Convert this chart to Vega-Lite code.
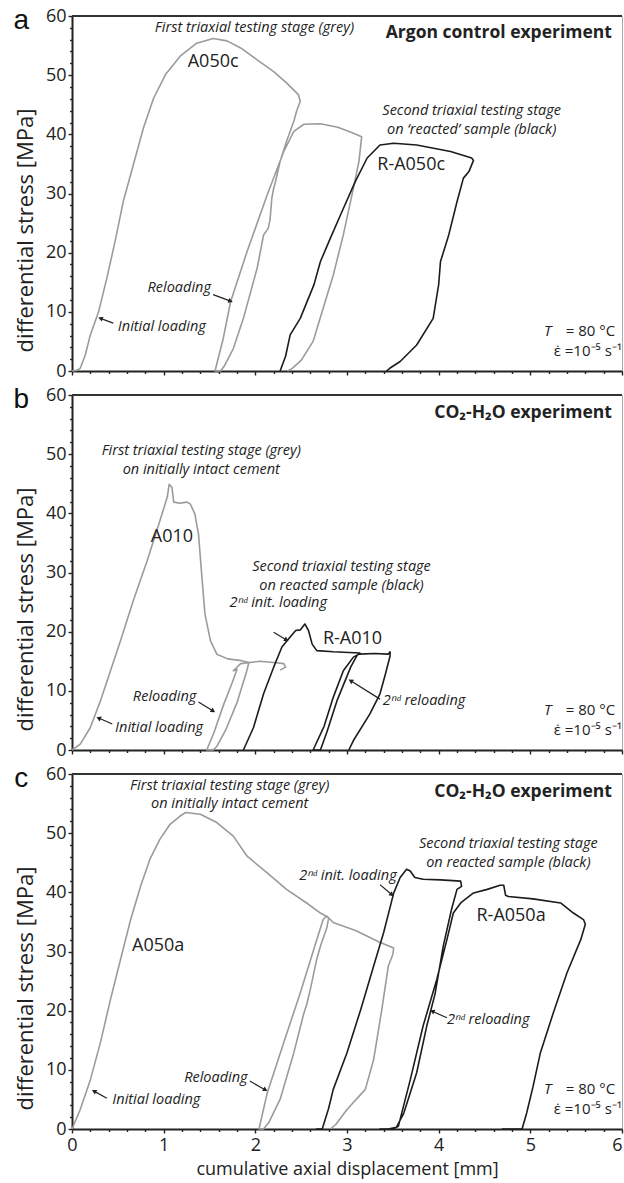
{
"$schema": "https://vega.github.io/schema/vega-lite/v6.json",
"padding": {"left": 13, "top": 6, "right": 2, "bottom": 2},
"spacing": 4,
"config": {
  "font": "Open Sans",
  "view": {"stroke": "#aaaaaa", "strokeWidth": 1},
  "axis": {"domainColor": "#222222", "domainWidth": 2, "tickColor": "#222222", "tickWidth": 1.4, "labelFont": "Open Sans", "labelFontSize": 18, "labelColor": "#222222", "titleFont": "Open Sans", "titleFontSize": 22, "titleColor": "#222222", "titleFontWeight": "normal", "grid": false, "labelOverlap": false, "tickCount": 40}
},
"datasets": {
"curves": [
{"panel":"a","stage":"first","i":0,"x":0,"y":0},{"panel":"a","stage":"first","i":1,"x":0.05,"y":0.1},{"panel":"a","stage":"first","i":2,"x":0.09,"y":0.45},{"panel":"a","stage":"first","i":3,"x":0.145,"y":2.7},{"panel":"a","stage":"first","i":4,"x":0.2,"y":6.1},{"panel":"a","stage":"first","i":5,"x":0.29,"y":10},{"panel":"a","stage":"first","i":6,"x":0.38,"y":15.7},{"panel":"a","stage":"first","i":7,"x":0.47,"y":21.9},{"panel":"a","stage":"first","i":8,"x":0.56,"y":28.7},{"panel":"a","stage":"first","i":9,"x":0.67,"y":34.9},{"panel":"a","stage":"first","i":10,"x":0.78,"y":41.1},{"panel":"a","stage":"first","i":11,"x":0.89,"y":46.1},{"panel":"a","stage":"first","i":12,"x":1.02,"y":50.1},{"panel":"a","stage":"first","i":13,"x":1.18,"y":53.2},{"panel":"a","stage":"first","i":14,"x":1.36,"y":55.4},{"panel":"a","stage":"first","i":15,"x":1.54,"y":56.2},{"panel":"a","stage":"first","i":16,"x":1.69,"y":55.8},{"panel":"a","stage":"first","i":17,"x":1.84,"y":54.6},{"panel":"a","stage":"first","i":18,"x":2.02,"y":52.6},{"panel":"a","stage":"first","i":19,"x":2.2,"y":50.6},{"panel":"a","stage":"first","i":20,"x":2.34,"y":48.7},{"panel":"a","stage":"first","i":21,"x":2.47,"y":46.7},{"panel":"a","stage":"first","i":22,"x":2.49,"y":45.6},{"panel":"a","stage":"first","i":23,"x":2.45,"y":43.9},{"panel":"a","stage":"first","i":24,"x":2.42,"y":42.2},{"panel":"a","stage":"first","i":25,"x":2.34,"y":38.8},{"panel":"a","stage":"first","i":26,"x":2.27,"y":35.4},{"panel":"a","stage":"first","i":27,"x":2.22,"y":32},{"panel":"a","stage":"first","i":28,"x":2.2,"y":30.9},{"panel":"a","stage":"first","i":29,"x":2.18,"y":29.2},{"panel":"a","stage":"first","i":30,"x":2.16,"y":25.5},{"panel":"a","stage":"first","i":31,"x":2.14,"y":24.1},{"panel":"a","stage":"first","i":32,"x":2.09,"y":23},{"panel":"a","stage":"first","i":33,"x":2.02,"y":17.4},{"panel":"a","stage":"first","i":34,"x":1.87,"y":8.9},{"panel":"a","stage":"first","i":35,"x":1.76,"y":3.8},{"panel":"a","stage":"first","i":36,"x":1.66,"y":0.8},{"panel":"a","stage":"first","i":37,"x":1.62,"y":0},{"panel":"a","stage":"first","i":38,"x":1.56,"y":0},{"panel":"a","stage":"first","i":39,"x":1.65,"y":5.5},{"panel":"a","stage":"first","i":40,"x":1.73,"y":11.7},{"panel":"a","stage":"first","i":41,"x":1.91,"y":20.2},{"panel":"a","stage":"first","i":42,"x":2.13,"y":29.8},{"panel":"a","stage":"first","i":43,"x":2.31,"y":37.1},{"panel":"a","stage":"first","i":44,"x":2.42,"y":40.5},{"panel":"a","stage":"first","i":45,"x":2.53,"y":41.7},{"panel":"a","stage":"first","i":46,"x":2.71,"y":41.8},{"panel":"a","stage":"first","i":47,"x":2.9,"y":41.2},{"panel":"a","stage":"first","i":48,"x":3.05,"y":40.3},{"panel":"a","stage":"first","i":49,"x":3.16,"y":39.6},{"panel":"a","stage":"first","i":50,"x":3.13,"y":35.4},{"panel":"a","stage":"first","i":51,"x":3.07,"y":30.9},{"panel":"a","stage":"first","i":52,"x":2.96,"y":23},{"panel":"a","stage":"first","i":53,"x":2.85,"y":16.2},{"panel":"a","stage":"first","i":54,"x":2.74,"y":10.6},{"panel":"a","stage":"first","i":55,"x":2.63,"y":5},{"panel":"a","stage":"first","i":56,"x":2.5,"y":1.8},{"panel":"a","stage":"first","i":57,"x":2.4,"y":0.4},{"panel":"a","stage":"first","i":58,"x":2.35,"y":0},
{"panel":"a","stage":"second","i":0,"x":2.27,"y":0},{"panel":"a","stage":"second","i":1,"x":2.33,"y":2.5},{"panel":"a","stage":"second","i":2,"x":2.38,"y":6.1},{"panel":"a","stage":"second","i":3,"x":2.49,"y":8.9},{"panel":"a","stage":"second","i":4,"x":2.64,"y":14.6},{"panel":"a","stage":"second","i":5,"x":2.71,"y":18.5},{"panel":"a","stage":"second","i":6,"x":2.82,"y":22.5},{"panel":"a","stage":"second","i":7,"x":2.93,"y":26.4},{"panel":"a","stage":"second","i":8,"x":3.09,"y":32},{"panel":"a","stage":"second","i":9,"x":3.22,"y":36},{"panel":"a","stage":"second","i":10,"x":3.36,"y":38.2},{"panel":"a","stage":"second","i":11,"x":3.51,"y":38.5},{"panel":"a","stage":"second","i":12,"x":3.76,"y":38.2},{"panel":"a","stage":"second","i":13,"x":4.13,"y":37.1},{"panel":"a","stage":"second","i":14,"x":4.36,"y":36},{"panel":"a","stage":"second","i":15,"x":4.38,"y":35.6},{"panel":"a","stage":"second","i":16,"x":4.33,"y":33.7},{"panel":"a","stage":"second","i":17,"x":4.27,"y":32.6},{"panel":"a","stage":"second","i":18,"x":4.2,"y":28.6},{"panel":"a","stage":"second","i":19,"x":4.11,"y":23},{"panel":"a","stage":"second","i":20,"x":4.02,"y":18.5},{"panel":"a","stage":"second","i":21,"x":4,"y":14.6},{"panel":"a","stage":"second","i":22,"x":3.94,"y":8.9},{"panel":"a","stage":"second","i":23,"x":3.76,"y":4.4},{"panel":"a","stage":"second","i":24,"x":3.58,"y":1.6},{"panel":"a","stage":"second","i":25,"x":3.47,"y":0.5},{"panel":"a","stage":"second","i":26,"x":3.43,"y":0},
{"panel":"b","stage":"first","i":0,"x":0,"y":0},{"panel":"b","stage":"first","i":1,"x":0.09,"y":1},{"panel":"b","stage":"first","i":2,"x":0.2,"y":3.8},{"panel":"b","stage":"first","i":3,"x":0.31,"y":8.3},{"panel":"b","stage":"first","i":4,"x":0.42,"y":13.4},{"panel":"b","stage":"first","i":5,"x":0.53,"y":18.5},{"panel":"b","stage":"first","i":6,"x":0.67,"y":25.3},{"panel":"b","stage":"first","i":7,"x":0.82,"y":32},{"panel":"b","stage":"first","i":8,"x":0.96,"y":38.8},{"panel":"b","stage":"first","i":9,"x":1.04,"y":42.8},{"panel":"b","stage":"first","i":10,"x":1.06,"y":44.9},{"panel":"b","stage":"first","i":11,"x":1.09,"y":44.4},{"panel":"b","stage":"first","i":12,"x":1.11,"y":41.9},{"panel":"b","stage":"first","i":13,"x":1.18,"y":41.7},{"panel":"b","stage":"first","i":14,"x":1.25,"y":41.9},{"panel":"b","stage":"first","i":15,"x":1.29,"y":41.6},{"panel":"b","stage":"first","i":16,"x":1.34,"y":39.9},{"panel":"b","stage":"first","i":17,"x":1.38,"y":36.5},{"panel":"b","stage":"first","i":18,"x":1.42,"y":28.7},{"panel":"b","stage":"first","i":19,"x":1.45,"y":23},{"panel":"b","stage":"first","i":20,"x":1.51,"y":18.5},{"panel":"b","stage":"first","i":21,"x":1.58,"y":16.2},{"panel":"b","stage":"first","i":22,"x":1.7,"y":15.4},{"panel":"b","stage":"first","i":23,"x":1.85,"y":15.1},{"panel":"b","stage":"first","i":24,"x":1.93,"y":14.8},{"panel":"b","stage":"first","i":25,"x":1.9,"y":13},{"panel":"b","stage":"first","i":26,"x":1.8,"y":8},{"panel":"b","stage":"first","i":27,"x":1.68,"y":3.5},{"panel":"b","stage":"first","i":28,"x":1.58,"y":0.6},{"panel":"b","stage":"first","i":29,"x":1.54,"y":0},{"panel":"b","stage":"first","i":30,"x":1.47,"y":0},{"panel":"b","stage":"first","i":31,"x":1.55,"y":3},{"panel":"b","stage":"first","i":32,"x":1.65,"y":7.5},{"panel":"b","stage":"first","i":33,"x":1.75,"y":11.5},{"panel":"b","stage":"first","i":34,"x":1.8,"y":13.6},{"panel":"b","stage":"first","i":35,"x":1.76,"y":13.4},{"panel":"b","stage":"first","i":36,"x":1.84,"y":14.6},{"panel":"b","stage":"first","i":37,"x":2.05,"y":15},{"panel":"b","stage":"first","i":38,"x":2.2,"y":14.8},{"panel":"b","stage":"first","i":39,"x":2.31,"y":14.6},{"panel":"b","stage":"first","i":40,"x":2.33,"y":14},{"panel":"b","stage":"first","i":41,"x":2.27,"y":13.5},
{"panel":"b","stage":"second","i":0,"x":1.87,"y":0},{"panel":"b","stage":"second","i":1,"x":1.98,"y":3.8},{"panel":"b","stage":"second","i":2,"x":2.09,"y":9.5},{"panel":"b","stage":"second","i":3,"x":2.2,"y":14},{"panel":"b","stage":"second","i":4,"x":2.29,"y":17.4},{"panel":"b","stage":"second","i":5,"x":2.38,"y":19.1},{"panel":"b","stage":"second","i":6,"x":2.44,"y":20.2},{"panel":"b","stage":"second","i":7,"x":2.49,"y":20.3},{"panel":"b","stage":"second","i":8,"x":2.54,"y":21.3},{"panel":"b","stage":"second","i":9,"x":2.58,"y":20.2},{"panel":"b","stage":"second","i":10,"x":2.62,"y":17.9},{"panel":"b","stage":"second","i":11,"x":2.67,"y":16.8},{"panel":"b","stage":"second","i":12,"x":2.85,"y":16.6},{"panel":"b","stage":"second","i":13,"x":3.14,"y":16.4},{"panel":"b","stage":"second","i":14,"x":3.11,"y":16},{"panel":"b","stage":"second","i":15,"x":3.04,"y":14},{"panel":"b","stage":"second","i":16,"x":2.89,"y":8.3},{"panel":"b","stage":"second","i":17,"x":2.78,"y":3},{"panel":"b","stage":"second","i":18,"x":2.71,"y":0},{"panel":"b","stage":"second","i":19,"x":2.63,"y":0},{"panel":"b","stage":"second","i":20,"x":2.75,"y":4},{"panel":"b","stage":"second","i":21,"x":2.85,"y":8.9},{"panel":"b","stage":"second","i":22,"x":2.96,"y":13.4},{"panel":"b","stage":"second","i":23,"x":3.07,"y":15.7},{"panel":"b","stage":"second","i":24,"x":3.13,"y":16.2},{"panel":"b","stage":"second","i":25,"x":3.3,"y":16.3},{"panel":"b","stage":"second","i":26,"x":3.45,"y":16.2},{"panel":"b","stage":"second","i":27,"x":3.47,"y":16.6},{"panel":"b","stage":"second","i":28,"x":3.47,"y":15.9},{"panel":"b","stage":"second","i":29,"x":3.42,"y":12.9},{"panel":"b","stage":"second","i":30,"x":3.36,"y":9.5},{"panel":"b","stage":"second","i":31,"x":3.25,"y":6.1},{"panel":"b","stage":"second","i":32,"x":3.07,"y":1.6},{"panel":"b","stage":"second","i":33,"x":3.02,"y":0},
{"panel":"c","stage":"first","i":0,"x":0,"y":0},{"panel":"c","stage":"first","i":1,"x":0.09,"y":3.3},{"panel":"c","stage":"first","i":2,"x":0.2,"y":8.3},{"panel":"c","stage":"first","i":3,"x":0.31,"y":14.6},{"panel":"c","stage":"first","i":4,"x":0.42,"y":21.9},{"panel":"c","stage":"first","i":5,"x":0.53,"y":28.7},{"panel":"c","stage":"first","i":6,"x":0.64,"y":35.4},{"panel":"c","stage":"first","i":7,"x":0.75,"y":41.1},{"panel":"c","stage":"first","i":8,"x":0.85,"y":45.6},{"panel":"c","stage":"first","i":9,"x":0.96,"y":49},{"panel":"c","stage":"first","i":10,"x":1.07,"y":51.5},{"panel":"c","stage":"first","i":11,"x":1.18,"y":52.9},{"panel":"c","stage":"first","i":12,"x":1.24,"y":53.5},{"panel":"c","stage":"first","i":13,"x":1.4,"y":53.2},{"panel":"c","stage":"first","i":14,"x":1.58,"y":51.8},{"panel":"c","stage":"first","i":15,"x":1.76,"y":49.5},{"panel":"c","stage":"first","i":16,"x":1.91,"y":46.1},{"panel":"c","stage":"first","i":17,"x":2.13,"y":43.3},{"panel":"c","stage":"first","i":18,"x":2.34,"y":40.5},{"panel":"c","stage":"first","i":19,"x":2.56,"y":38.2},{"panel":"c","stage":"first","i":20,"x":2.71,"y":36.5},{"panel":"c","stage":"first","i":21,"x":2.8,"y":35.7},{"panel":"c","stage":"first","i":22,"x":2.78,"y":34},{"panel":"c","stage":"first","i":23,"x":2.71,"y":30.9},{"panel":"c","stage":"first","i":24,"x":2.67,"y":28.7},{"panel":"c","stage":"first","i":25,"x":2.6,"y":23.6},{"panel":"c","stage":"first","i":26,"x":2.56,"y":21},{"panel":"c","stage":"first","i":27,"x":2.53,"y":19.6},{"panel":"c","stage":"first","i":28,"x":2.42,"y":12.9},{"panel":"c","stage":"first","i":29,"x":2.27,"y":5},{"panel":"c","stage":"first","i":30,"x":2.15,"y":1.2},{"panel":"c","stage":"first","i":31,"x":2.09,"y":0},{"panel":"c","stage":"first","i":32,"x":2.04,"y":0},{"panel":"c","stage":"first","i":33,"x":2.13,"y":6.1},{"panel":"c","stage":"first","i":34,"x":2.31,"y":14.6},{"panel":"c","stage":"first","i":35,"x":2.49,"y":23},{"panel":"c","stage":"first","i":36,"x":2.67,"y":32},{"panel":"c","stage":"first","i":37,"x":2.74,"y":35.4},{"panel":"c","stage":"first","i":38,"x":2.78,"y":36},{"panel":"c","stage":"first","i":39,"x":2.85,"y":34.9},{"panel":"c","stage":"first","i":40,"x":3.1,"y":33.5},{"panel":"c","stage":"first","i":41,"x":3.35,"y":31.6},{"panel":"c","stage":"first","i":42,"x":3.51,"y":30.6},{"panel":"c","stage":"first","i":43,"x":3.5,"y":29.5},{"panel":"c","stage":"first","i":44,"x":3.45,"y":27.5},{"panel":"c","stage":"first","i":45,"x":3.38,"y":20.2},{"panel":"c","stage":"first","i":46,"x":3.29,"y":11.7},{"panel":"c","stage":"first","i":47,"x":3.2,"y":6.7},{"panel":"c","stage":"first","i":48,"x":3,"y":3.3},{"panel":"c","stage":"first","i":49,"x":2.88,"y":0.8},{"panel":"c","stage":"first","i":50,"x":2.82,"y":0},
{"panel":"c","stage":"second","i":0,"x":2.66,"y":0},{"panel":"c","stage":"second","i":1,"x":2.73,"y":0},{"panel":"c","stage":"second","i":2,"x":2.8,"y":3.5},{"panel":"c","stage":"second","i":3,"x":2.85,"y":6.7},{"panel":"c","stage":"second","i":4,"x":3,"y":12.9},{"panel":"c","stage":"second","i":5,"x":3.15,"y":20.2},{"panel":"c","stage":"second","i":6,"x":3.29,"y":27.5},{"panel":"c","stage":"second","i":7,"x":3.4,"y":33.2},{"panel":"c","stage":"second","i":8,"x":3.51,"y":39.9},{"panel":"c","stage":"second","i":9,"x":3.58,"y":42.5},{"panel":"c","stage":"second","i":10,"x":3.65,"y":43.9},{"panel":"c","stage":"second","i":11,"x":3.69,"y":43.6},{"panel":"c","stage":"second","i":12,"x":3.74,"y":42.5},{"panel":"c","stage":"second","i":13,"x":3.83,"y":42.2},{"panel":"c","stage":"second","i":14,"x":4.02,"y":42.1},{"panel":"c","stage":"second","i":15,"x":4.24,"y":41.9},{"panel":"c","stage":"second","i":16,"x":4.25,"y":41},{"panel":"c","stage":"second","i":17,"x":4.2,"y":40.5},{"panel":"c","stage":"second","i":18,"x":4.14,"y":37.1},{"panel":"c","stage":"second","i":19,"x":4.05,"y":30.9},{"panel":"c","stage":"second","i":20,"x":3.96,"y":22.8},{"panel":"c","stage":"second","i":21,"x":3.87,"y":17.4},{"panel":"c","stage":"second","i":22,"x":3.76,"y":9.5},{"panel":"c","stage":"second","i":23,"x":3.62,"y":2.7},{"panel":"c","stage":"second","i":24,"x":3.54,"y":0.3},{"panel":"c","stage":"second","i":25,"x":3.45,"y":0},{"panel":"c","stage":"second","i":26,"x":3.36,"y":0},{"panel":"c","stage":"second","i":27,"x":3.5,"y":0},{"panel":"c","stage":"second","i":28,"x":3.56,"y":0.45},{"panel":"c","stage":"second","i":29,"x":3.69,"y":8.3},{"panel":"c","stage":"second","i":30,"x":3.83,"y":17.4},{"panel":"c","stage":"second","i":31,"x":3.98,"y":25.3},{"panel":"c","stage":"second","i":32,"x":4.09,"y":32},{"panel":"c","stage":"second","i":33,"x":4.16,"y":36.5},{"panel":"c","stage":"second","i":34,"x":4.24,"y":38.2},{"panel":"c","stage":"second","i":35,"x":4.38,"y":39.9},{"panel":"c","stage":"second","i":36,"x":4.53,"y":40.5},{"panel":"c","stage":"second","i":37,"x":4.67,"y":41.2},{"panel":"c","stage":"second","i":38,"x":4.71,"y":41.2},{"panel":"c","stage":"second","i":39,"x":4.73,"y":39.5},{"panel":"c","stage":"second","i":40,"x":4.76,"y":39.3},{"panel":"c","stage":"second","i":41,"x":5.03,"y":38.9},{"panel":"c","stage":"second","i":42,"x":5.33,"y":38.2},{"panel":"c","stage":"second","i":43,"x":5.47,"y":36.5},{"panel":"c","stage":"second","i":44,"x":5.58,"y":35.4},{"panel":"c","stage":"second","i":45,"x":5.6,"y":34.6},{"panel":"c","stage":"second","i":46,"x":5.55,"y":32},{"panel":"c","stage":"second","i":47,"x":5.4,"y":26.4},{"panel":"c","stage":"second","i":48,"x":5.25,"y":19.6},{"panel":"c","stage":"second","i":49,"x":5.11,"y":12.9},{"panel":"c","stage":"second","i":50,"x":5.03,"y":7.2},{"panel":"c","stage":"second","i":51,"x":4.96,"y":2.7},{"panel":"c","stage":"second","i":52,"x":4.91,"y":0},{"panel":"c","stage":"second","i":53,"x":4.69,"y":0}
],
"notes": [
{"panel":"a","kind":"letter","text":"a","x":-0.553,"y":57.8},
{"panel":"a","kind":"note","text":"First triaxial testing stage (grey)","x":1.99,"y":57.9},
{"panel":"a","kind":"sample","text":"A050c","x":1.54,"y":52.3},
{"panel":"a","kind":"heading","text":"Argon control experiment","x":5.89,"y":57.1},
{"panel":"a","kind":"note","text":"Second triaxial testing stage","x":4.36,"y":43.9},
{"panel":"a","kind":"note","text":"on ‘reacted’ sample (black)","x":4.36,"y":40.8},
{"panel":"a","kind":"sample","text":"R-A050c","x":3.7,"y":34.9},
{"panel":"a","kind":"note","text":"Reloading","x":1.17,"y":14.0},
{"panel":"a","kind":"note","text":"Initial loading","x":0.98,"y":7.5},
{"panel":"a","kind":"condT","text":"T","x":5.19,"y":6.7},
{"panel":"a","kind":"cond","text":"= 80 °C","x":5.925,"y":6.7},
{"panel":"a","kind":"cond","text":"ε̇ =10⁻⁵ s⁻¹","x":6.0,"y":3.3},
{"panel":"b","kind":"letter","text":"b","x":-0.553,"y":57.8},
{"panel":"b","kind":"note","text":"First triaxial testing stage (grey)","x":1.41,"y":50.6},
{"panel":"b","kind":"note","text":"on initially intact cement","x":1.41,"y":47.4},
{"panel":"b","kind":"sample","text":"A010","x":1.09,"y":36.0},
{"panel":"b","kind":"note","text":"Second triaxial testing stage","x":2.94,"y":31.0},
{"panel":"b","kind":"note","text":"on reacted sample (black)","x":2.94,"y":27.8},
{"panel":"b","kind":"note","text":"2ⁿᵈ init. loading","x":2.25,"y":24.9},
{"panel":"b","kind":"sample","text":"R-A010","x":3.06,"y":18.8},
{"panel":"b","kind":"note","text":"Reloading","x":1.01,"y":8.9},
{"panel":"b","kind":"note","text":"Initial loading","x":0.95,"y":3.8},
{"panel":"b","kind":"note","text":"2ⁿᵈ reloading","x":3.84,"y":8.3},
{"panel":"b","kind":"heading","text":"CO₂-H₂O experiment","x":5.89,"y":56.9},
{"panel":"b","kind":"condT","text":"T","x":5.19,"y":6.7},
{"panel":"b","kind":"cond","text":"= 80 °C","x":5.925,"y":6.7},
{"panel":"b","kind":"cond","text":"ε̇ =10⁻⁵ s⁻¹","x":6.0,"y":3.3},
{"panel":"c","kind":"letter","text":"c","x":-0.553,"y":57.8},
{"panel":"c","kind":"note","text":"First triaxial testing stage (grey)","x":1.72,"y":57.9},
{"panel":"c","kind":"note","text":"on initially intact cement","x":1.72,"y":54.9},
{"panel":"c","kind":"sample","text":"A050a","x":0.94,"y":30.9},
{"panel":"c","kind":"note","text":"2ⁿᵈ init. loading","x":3.01,"y":42.7},
{"panel":"c","kind":"note","text":"Second triaxial testing stage","x":4.76,"y":48.1},
{"panel":"c","kind":"note","text":"on reacted sample (black)","x":4.76,"y":44.9},
{"panel":"c","kind":"sample","text":"R-A050a","x":4.79,"y":36.0},
{"panel":"c","kind":"note","text":"2ⁿᵈ reloading","x":4.54,"y":18.5},
{"panel":"c","kind":"note","text":"Reloading","x":1.57,"y":8.7},
{"panel":"c","kind":"note","text":"Initial loading","x":0.92,"y":4.9},
{"panel":"c","kind":"heading","text":"CO₂-H₂O experiment","x":5.89,"y":56.9},
{"panel":"c","kind":"condT","text":"T","x":5.19,"y":6.7},
{"panel":"c","kind":"cond","text":"= 80 °C","x":5.925,"y":6.7},
{"panel":"c","kind":"cond","text":"ε̇ =10⁻⁵ s⁻¹","x":6.0,"y":3.3}
],
"arrows": [
{"panel":"a","x":1.54,"y":12.9,"x2":1.73,"y2":11.8},
{"panel":"a","x":0.45,"y":8.1,"x2":0.31,"y2":8.9},
{"panel":"b","x":1.38,"y":8.1,"x2":1.54,"y2":6.6},
{"panel":"b","x":0.44,"y":4.4,"x2":0.29,"y2":5.4},
{"panel":"b","x":2.2,"y":19.9,"x2":2.34,"y2":18.6},
{"panel":"b","x":3.36,"y":8.6,"x2":3.04,"y2":11.7},
{"panel":"c","x":1.94,"y":8.1,"x2":2.11,"y2":6.6},
{"panel":"c","x":0.38,"y":5.2,"x2":0.24,"y2":6.4},
{"panel":"c","x":3.36,"y":41.3,"x2":3.49,"y2":39.6},
{"panel":"c","x":4.09,"y":18.8,"x2":3.93,"y2":19.9}
]
},
"vconcat": [
{"width": 550, "height": 355, "layer": [
 {"data": {"name": "curves"}, "transform": [{"filter": "datum.panel === 'a'"}], "mark": {"type": "line", "strokeWidth": 1.6, "strokeJoin": "round"},
  "encoding": {
   "x": {"field": "x", "type": "quantitative", "scale": {"domain": [0, 6], "nice": false, "zero": false}, "axis": {"title": null, "labels": false, "labelOverlap": false, "tickCount": 40, "values": [0,0.2,0.4,0.6,0.8,1,1.2,1.4,1.6,1.8,2,2.2,2.4,2.6,2.8,3,3.2,3.4,3.6,3.8,4,4.2,4.4,4.6,4.8,5,5.2,5.4,5.6,5.8,6], "tickSize": {"condition": {"test": "datum.value % 1 === 0", "value": 4}, "value": 2.5}}},
   "y": {"field": "y", "type": "quantitative", "scale": {"domain": [0, 60], "nice": false}, "axis": {"title": "differential stress [MPa]", "titleY": 214, "labelOverlap": false, "tickCount": 40, "format": "d", "values": [0,2,4,6,8,10,12,14,16,18,20,22,24,26,28,30,32,34,36,38,40,42,44,46,48,50,52,54,56,58,60], "labelExpr": "datum.value % 10 === 0 ? datum.label : ''", "tickSize": {"condition": {"test": "datum.value % 10 === 0", "value": 4}, "value": 2.5}, "labelPadding": 2, "titlePadding": 8}},
   "detail": {"field": "stage"},
   "order": {"field": "i", "type": "quantitative"},
   "color": {"field": "stage", "type": "nominal", "scale": {"domain": ["first", "second"], "range": ["#9b9b9b", "#1c1c1c"]}, "legend": null}}},
 {"data": {"values": [{}]}, "mark": {"type": "rule", "color": "#333333", "strokeWidth": 2}, "encoding": {"x": {"datum": 0}, "x2": {"datum": 6}, "y": {"datum": 60}}},
 {"data": {"name": "arrows"}, "transform": [{"filter": "datum.panel === 'a'"}], "mark": {"type": "rule", "color": "#222222", "strokeWidth": 1.2}, "encoding": {"x": {"field": "x", "type": "quantitative"}, "y": {"field": "y", "type": "quantitative"}, "x2": {"field": "x2"}, "y2": {"field": "y2"}}},
 {"data": {"name": "arrows"}, "transform": [{"filter": "datum.panel === 'a'"}, {"calculate": "atan2((datum.x2-datum.x)*91.7,(datum.y2-datum.y)*5.91)*180/PI", "as": "angle"}], "mark": {"type": "point", "shape": "triangle-up", "filled": true, "color": "#222222", "size": 28, "opacity": 1}, "encoding": {"x": {"field": "x2", "type": "quantitative"}, "y": {"field": "y2", "type": "quantitative"}, "angle": {"field": "angle", "type": "quantitative", "scale": null}}},
 {"data": {"name": "notes"}, "transform": [{"filter": "datum.panel === 'a' && datum.kind === 'note'"}], "mark": {"type": "text", "fontStyle": "italic", "fontSize": 14.5, "color": "#222222", "align": "center", "baseline": "middle"}, "encoding": {"x": {"field": "x", "type": "quantitative"}, "y": {"field": "y", "type": "quantitative"}, "text": {"field": "text"}}},
 {"data": {"name": "notes"}, "transform": [{"filter": "datum.panel === 'a' && datum.kind === 'sample'"}], "mark": {"type": "text", "fontSize": 18, "color": "#222222", "align": "center", "baseline": "middle"}, "encoding": {"x": {"field": "x", "type": "quantitative"}, "y": {"field": "y", "type": "quantitative"}, "text": {"field": "text"}}},
 {"data": {"name": "notes"}, "transform": [{"filter": "datum.panel === 'a' && datum.kind === 'heading'"}], "mark": {"type": "text", "fontSize": 17.5, "fontWeight": "bold", "color": "#222222", "align": "right", "baseline": "middle"}, "encoding": {"x": {"field": "x", "type": "quantitative"}, "y": {"field": "y", "type": "quantitative"}, "text": {"field": "text"}}},
 {"data": {"name": "notes"}, "transform": [{"filter": "datum.panel === 'a' && datum.kind === 'cond'"}], "mark": {"type": "text", "fontSize": 15, "color": "#222222", "align": "right", "baseline": "middle"}, "encoding": {"x": {"field": "x", "type": "quantitative"}, "y": {"field": "y", "type": "quantitative"}, "text": {"field": "text"}}},
 {"data": {"name": "notes"}, "transform": [{"filter": "datum.panel === 'a' && datum.kind === 'condT'"}], "mark": {"type": "text", "fontSize": 15, "fontStyle": "italic", "color": "#222222", "align": "center", "baseline": "middle"}, "encoding": {"x": {"field": "x", "type": "quantitative"}, "y": {"field": "y", "type": "quantitative"}, "text": {"field": "text"}}},
 {"data": {"name": "notes"}, "transform": [{"filter": "datum.panel === 'a' && datum.kind === 'letter'"}], "mark": {"type": "text", "font": "Liberation Sans", "fontSize": 28, "color": "#111111", "align": "center", "baseline": "alphabetic"}, "encoding": {"x": {"field": "x", "type": "quantitative"}, "y": {"field": "y", "type": "quantitative"}, "text": {"field": "text"}}}
]},
{"width": 550, "height": 355, "layer": [
 {"data": {"name": "curves"}, "transform": [{"filter": "datum.panel === 'b'"}], "mark": {"type": "line", "strokeWidth": 1.6, "strokeJoin": "round"},
  "encoding": {
   "x": {"field": "x", "type": "quantitative", "scale": {"domain": [0, 6], "nice": false, "zero": false}, "axis": {"title": null, "labels": false, "labelOverlap": false, "tickCount": 40, "values": [0,0.2,0.4,0.6,0.8,1,1.2,1.4,1.6,1.8,2,2.2,2.4,2.6,2.8,3,3.2,3.4,3.6,3.8,4,4.2,4.4,4.6,4.8,5,5.2,5.4,5.6,5.8,6], "tickSize": {"condition": {"test": "datum.value % 1 === 0", "value": 4}, "value": 2.5}}},
   "y": {"field": "y", "type": "quantitative", "scale": {"domain": [0, 60], "nice": false}, "axis": {"title": "differential stress [MPa]", "titleY": 214, "labelOverlap": false, "tickCount": 40, "format": "d", "values": [0,2,4,6,8,10,12,14,16,18,20,22,24,26,28,30,32,34,36,38,40,42,44,46,48,50,52,54,56,58,60], "labelExpr": "datum.value % 10 === 0 ? datum.label : ''", "tickSize": {"condition": {"test": "datum.value % 10 === 0", "value": 4}, "value": 2.5}, "labelPadding": 2, "titlePadding": 8}},
   "detail": {"field": "stage"},
   "order": {"field": "i", "type": "quantitative"},
   "color": {"field": "stage", "type": "nominal", "scale": {"domain": ["first", "second"], "range": ["#9b9b9b", "#1c1c1c"]}, "legend": null}}},
 {"data": {"values": [{}]}, "mark": {"type": "rule", "color": "#333333", "strokeWidth": 2}, "encoding": {"x": {"datum": 0}, "x2": {"datum": 6}, "y": {"datum": 60}}},
 {"data": {"name": "arrows"}, "transform": [{"filter": "datum.panel === 'b'"}], "mark": {"type": "rule", "color": "#222222", "strokeWidth": 1.2}, "encoding": {"x": {"field": "x", "type": "quantitative"}, "y": {"field": "y", "type": "quantitative"}, "x2": {"field": "x2"}, "y2": {"field": "y2"}}},
 {"data": {"name": "arrows"}, "transform": [{"filter": "datum.panel === 'b'"}, {"calculate": "atan2((datum.x2-datum.x)*91.7,(datum.y2-datum.y)*5.91)*180/PI", "as": "angle"}], "mark": {"type": "point", "shape": "triangle-up", "filled": true, "color": "#222222", "size": 28, "opacity": 1}, "encoding": {"x": {"field": "x2", "type": "quantitative"}, "y": {"field": "y2", "type": "quantitative"}, "angle": {"field": "angle", "type": "quantitative", "scale": null}}},
 {"data": {"name": "notes"}, "transform": [{"filter": "datum.panel === 'b' && datum.kind === 'note'"}], "mark": {"type": "text", "fontStyle": "italic", "fontSize": 14.5, "color": "#222222", "align": "center", "baseline": "middle"}, "encoding": {"x": {"field": "x", "type": "quantitative"}, "y": {"field": "y", "type": "quantitative"}, "text": {"field": "text"}}},
 {"data": {"name": "notes"}, "transform": [{"filter": "datum.panel === 'b' && datum.kind === 'sample'"}], "mark": {"type": "text", "fontSize": 18, "color": "#222222", "align": "center", "baseline": "middle"}, "encoding": {"x": {"field": "x", "type": "quantitative"}, "y": {"field": "y", "type": "quantitative"}, "text": {"field": "text"}}},
 {"data": {"name": "notes"}, "transform": [{"filter": "datum.panel === 'b' && datum.kind === 'heading'"}], "mark": {"type": "text", "fontSize": 17.5, "fontWeight": "bold", "color": "#222222", "align": "right", "baseline": "middle"}, "encoding": {"x": {"field": "x", "type": "quantitative"}, "y": {"field": "y", "type": "quantitative"}, "text": {"field": "text"}}},
 {"data": {"name": "notes"}, "transform": [{"filter": "datum.panel === 'b' && datum.kind === 'cond'"}], "mark": {"type": "text", "fontSize": 15, "color": "#222222", "align": "right", "baseline": "middle"}, "encoding": {"x": {"field": "x", "type": "quantitative"}, "y": {"field": "y", "type": "quantitative"}, "text": {"field": "text"}}},
 {"data": {"name": "notes"}, "transform": [{"filter": "datum.panel === 'b' && datum.kind === 'condT'"}], "mark": {"type": "text", "fontSize": 15, "fontStyle": "italic", "color": "#222222", "align": "center", "baseline": "middle"}, "encoding": {"x": {"field": "x", "type": "quantitative"}, "y": {"field": "y", "type": "quantitative"}, "text": {"field": "text"}}},
 {"data": {"name": "notes"}, "transform": [{"filter": "datum.panel === 'b' && datum.kind === 'letter'"}], "mark": {"type": "text", "font": "Liberation Sans", "fontSize": 28, "color": "#111111", "align": "center", "baseline": "alphabetic"}, "encoding": {"x": {"field": "x", "type": "quantitative"}, "y": {"field": "y", "type": "quantitative"}, "text": {"field": "text"}}}
]},
{"width": 550, "height": 355, "layer": [
 {"data": {"name": "curves"}, "transform": [{"filter": "datum.panel === 'c'"}], "mark": {"type": "line", "strokeWidth": 1.6, "strokeJoin": "round"},
  "encoding": {
   "x": {"field": "x", "type": "quantitative", "scale": {"domain": [0, 6], "nice": false, "zero": false}, "axis": {"title": "cumulative axial displacement [mm]", "labelOverlap": false, "labelFlush": false, "tickCount": 40, "values": [0,0.2,0.4,0.6,0.8,1,1.2,1.4,1.6,1.8,2,2.2,2.4,2.6,2.8,3,3.2,3.4,3.6,3.8,4,4.2,4.4,4.6,4.8,5,5.2,5.4,5.6,5.8,6], "labelExpr": "datum.value % 1 === 0 ? '' + datum.value : ''", "labelAlign": {"condition": {"test": "datum.value === 6", "value": "right"}, "value": "center"}, "labelPadding": 3, "titleFontSize": 18, "titlePadding": 6, "tickSize": {"condition": {"test": "datum.value % 1 === 0", "value": 4}, "value": 2.5}}},
   "y": {"field": "y", "type": "quantitative", "scale": {"domain": [0, 60], "nice": false}, "axis": {"title": "differential stress [MPa]", "titleY": 214, "labelOverlap": false, "tickCount": 40, "format": "d", "values": [0,2,4,6,8,10,12,14,16,18,20,22,24,26,28,30,32,34,36,38,40,42,44,46,48,50,52,54,56,58,60], "labelExpr": "datum.value % 10 === 0 ? datum.label : ''", "tickSize": {"condition": {"test": "datum.value % 10 === 0", "value": 4}, "value": 2.5}, "labelPadding": 2, "titlePadding": 8}},
   "detail": {"field": "stage"},
   "order": {"field": "i", "type": "quantitative"},
   "color": {"field": "stage", "type": "nominal", "scale": {"domain": ["first", "second"], "range": ["#9b9b9b", "#1c1c1c"]}, "legend": null}}},
 {"data": {"values": [{}]}, "mark": {"type": "rule", "color": "#333333", "strokeWidth": 2}, "encoding": {"x": {"datum": 0}, "x2": {"datum": 6}, "y": {"datum": 60}}},
 {"data": {"name": "arrows"}, "transform": [{"filter": "datum.panel === 'c'"}], "mark": {"type": "rule", "color": "#222222", "strokeWidth": 1.2}, "encoding": {"x": {"field": "x", "type": "quantitative"}, "y": {"field": "y", "type": "quantitative"}, "x2": {"field": "x2"}, "y2": {"field": "y2"}}},
 {"data": {"name": "arrows"}, "transform": [{"filter": "datum.panel === 'c'"}, {"calculate": "atan2((datum.x2-datum.x)*91.7,(datum.y2-datum.y)*5.91)*180/PI", "as": "angle"}], "mark": {"type": "point", "shape": "triangle-up", "filled": true, "color": "#222222", "size": 28, "opacity": 1}, "encoding": {"x": {"field": "x2", "type": "quantitative"}, "y": {"field": "y2", "type": "quantitative"}, "angle": {"field": "angle", "type": "quantitative", "scale": null}}},
 {"data": {"name": "notes"}, "transform": [{"filter": "datum.panel === 'c' && datum.kind === 'note'"}], "mark": {"type": "text", "fontStyle": "italic", "fontSize": 14.5, "color": "#222222", "align": "center", "baseline": "middle"}, "encoding": {"x": {"field": "x", "type": "quantitative"}, "y": {"field": "y", "type": "quantitative"}, "text": {"field": "text"}}},
 {"data": {"name": "notes"}, "transform": [{"filter": "datum.panel === 'c' && datum.kind === 'sample'"}], "mark": {"type": "text", "fontSize": 18, "color": "#222222", "align": "center", "baseline": "middle"}, "encoding": {"x": {"field": "x", "type": "quantitative"}, "y": {"field": "y", "type": "quantitative"}, "text": {"field": "text"}}},
 {"data": {"name": "notes"}, "transform": [{"filter": "datum.panel === 'c' && datum.kind === 'heading'"}], "mark": {"type": "text", "fontSize": 17.5, "fontWeight": "bold", "color": "#222222", "align": "right", "baseline": "middle"}, "encoding": {"x": {"field": "x", "type": "quantitative"}, "y": {"field": "y", "type": "quantitative"}, "text": {"field": "text"}}},
 {"data": {"name": "notes"}, "transform": [{"filter": "datum.panel === 'c' && datum.kind === 'cond'"}], "mark": {"type": "text", "fontSize": 15, "color": "#222222", "align": "right", "baseline": "middle"}, "encoding": {"x": {"field": "x", "type": "quantitative"}, "y": {"field": "y", "type": "quantitative"}, "text": {"field": "text"}}},
 {"data": {"name": "notes"}, "transform": [{"filter": "datum.panel === 'c' && datum.kind === 'condT'"}], "mark": {"type": "text", "fontSize": 15, "fontStyle": "italic", "color": "#222222", "align": "center", "baseline": "middle"}, "encoding": {"x": {"field": "x", "type": "quantitative"}, "y": {"field": "y", "type": "quantitative"}, "text": {"field": "text"}}},
 {"data": {"name": "notes"}, "transform": [{"filter": "datum.panel === 'c' && datum.kind === 'letter'"}], "mark": {"type": "text", "font": "Liberation Sans", "fontSize": 28, "color": "#111111", "align": "center", "baseline": "alphabetic"}, "encoding": {"x": {"field": "x", "type": "quantitative"}, "y": {"field": "y", "type": "quantitative"}, "text": {"field": "text"}}}
]}
]
}
